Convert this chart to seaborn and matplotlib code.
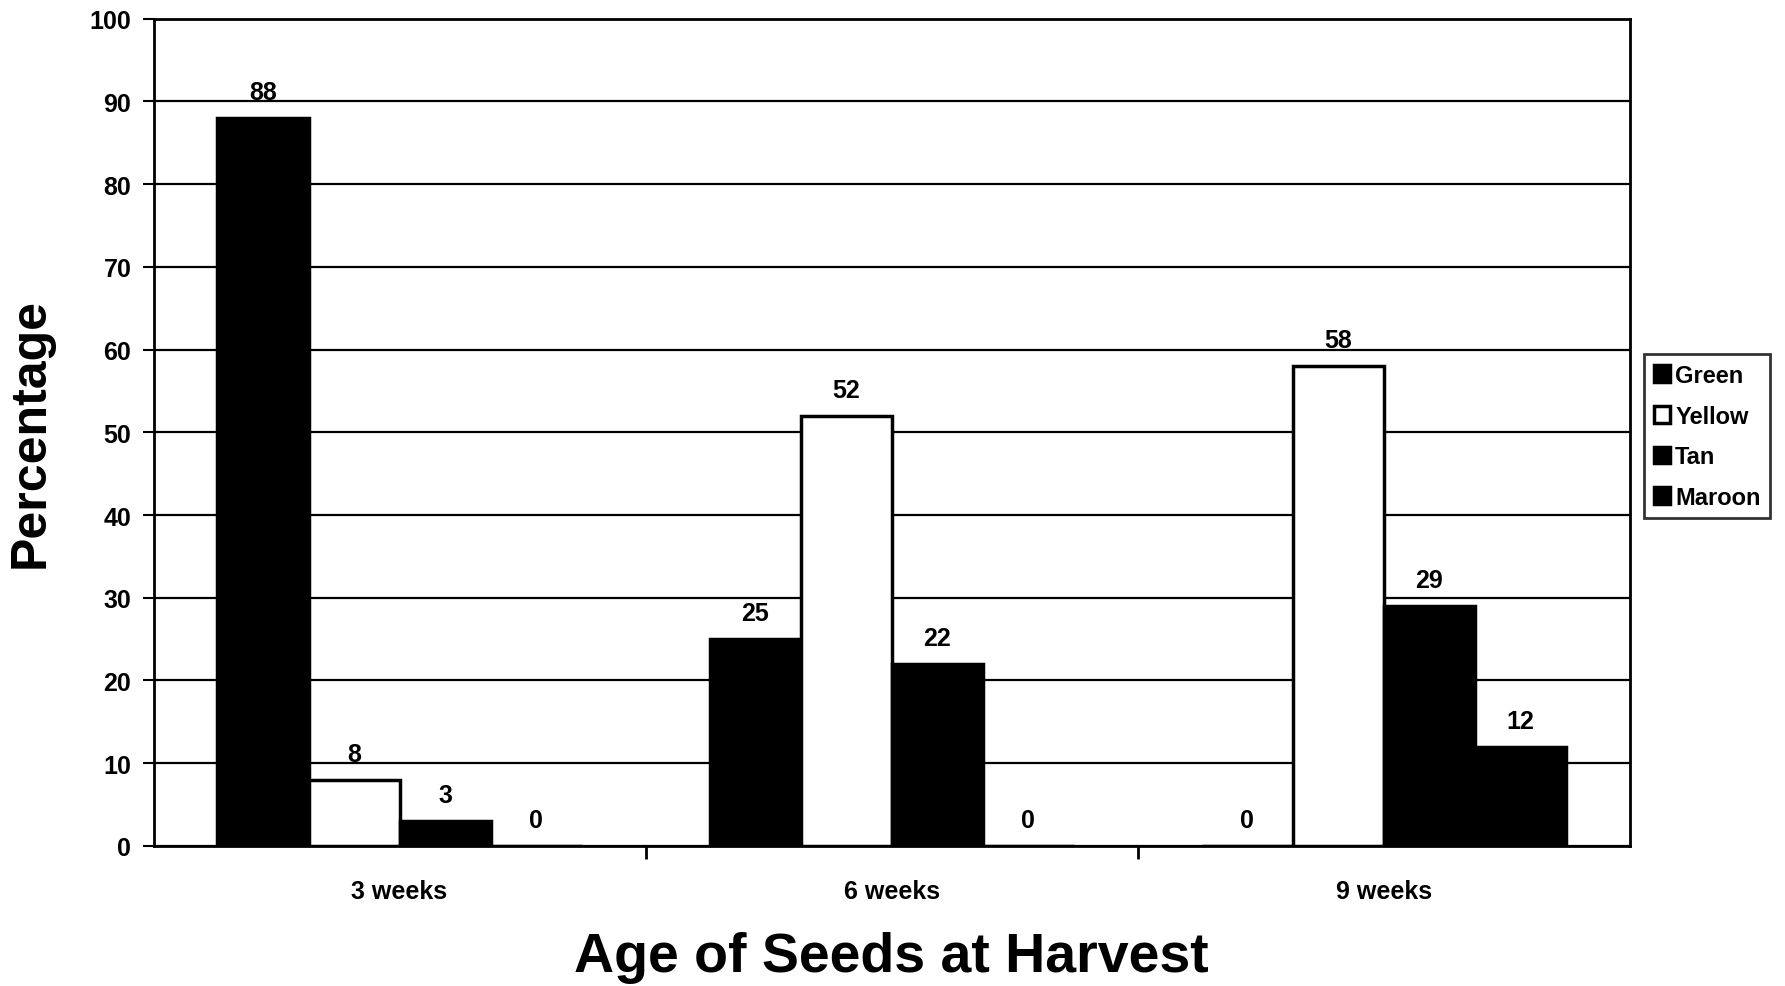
import seaborn as sns
import pandas as pd
import matplotlib.pyplot as plt
from matplotlib.ticker import FixedLocator

ages = ['3 weeks', '6 weeks', '9 weeks']
colours = ['Green', 'Yellow', 'Tan', 'Maroon']
green = [88, 25, 0]
yellow = [8, 52, 58]
tan = [3, 22, 29]
maroon = [0, 0, 12]

df = pd.DataFrame({
    'age': ages * 4,
    'colour': [c for c in colours for _ in ages],
    'pct': green + yellow + tan + maroon,
})

sns.set_style('white')
plt.rcParams['font.family'] = ['Liberation Sans', 'DejaVu Sans']
plt.rcParams['font.weight'] = 'bold'
plt.rcParams['text.color'] = 'black'
plt.rcParams['axes.labelcolor'] = 'black'
plt.rcParams['xtick.color'] = 'black'
plt.rcParams['ytick.color'] = 'black'

fig = plt.figure(figsize=(17.85, 9.87), dpi=100)
ax = fig.add_axes([0.086, 0.142, 0.827, 0.838])

pal = {'Green': 'black', 'Yellow': 'white', 'Tan': 'black', 'Maroon': 'black'}
sns.barplot(data=df, x='age', y='pct', hue='colour', order=ages, hue_order=colours,
            palette=pal, width=0.74, gap=0, edgecolor='black', linewidth=2.5,
            legend=True, ax=ax, zorder=3)

for cont in ax.containers:
    ax.bar_label(cont, padding=10, fontsize=18, fontweight='bold', color='black')

ax.set_ylim(0, 100)
ax.set_yticks(range(0, 101, 10))
ax.set_xlim(-0.5, 2.5)
ax.yaxis.grid(True, color='black', linewidth=1.6, zorder=0)
ax.set_axisbelow(True)
for s in ax.spines.values():
    s.set_color('black')
    s.set_linewidth(2)

ax.tick_params(axis='y', direction='out', length=8, width=1.5, color='black', labelsize=18, pad=8, left=True)
ax.tick_params(axis='x', which='major', length=0, labelsize=18, pad=24)
ax.xaxis.set_minor_locator(FixedLocator([0.5, 1.5]))
ax.tick_params(axis='x', which='minor', direction='out', length=9, width=2, color='black', bottom=True)
for lab in ax.get_xticklabels() + ax.get_yticklabels():
    lab.set_fontweight('bold')

ax.set_xlabel('Age of Seeds at Harvest', fontsize=40, fontweight='bold', labelpad=20, color='black')
ax.set_ylabel('Percentage', fontsize=36, fontweight='bold', labelpad=26, color='black')

handles, labels = ax.get_legend_handles_labels()
leg = ax.legend(handles, labels, loc='center left', bbox_to_anchor=(1.01, 0.495),
                frameon=True, fancybox=False, edgecolor='black', fontsize=17,
                handlelength=0.7, handleheight=0.7, handletextpad=0.2,
                labelspacing=0.75, borderpad=0.4, borderaxespad=0)
leg.get_frame().set_linewidth(2)
for t in leg.get_texts():
    t.set_fontweight('bold')
    t.set_color('black')

fig.savefig('out.png', dpi=100)
